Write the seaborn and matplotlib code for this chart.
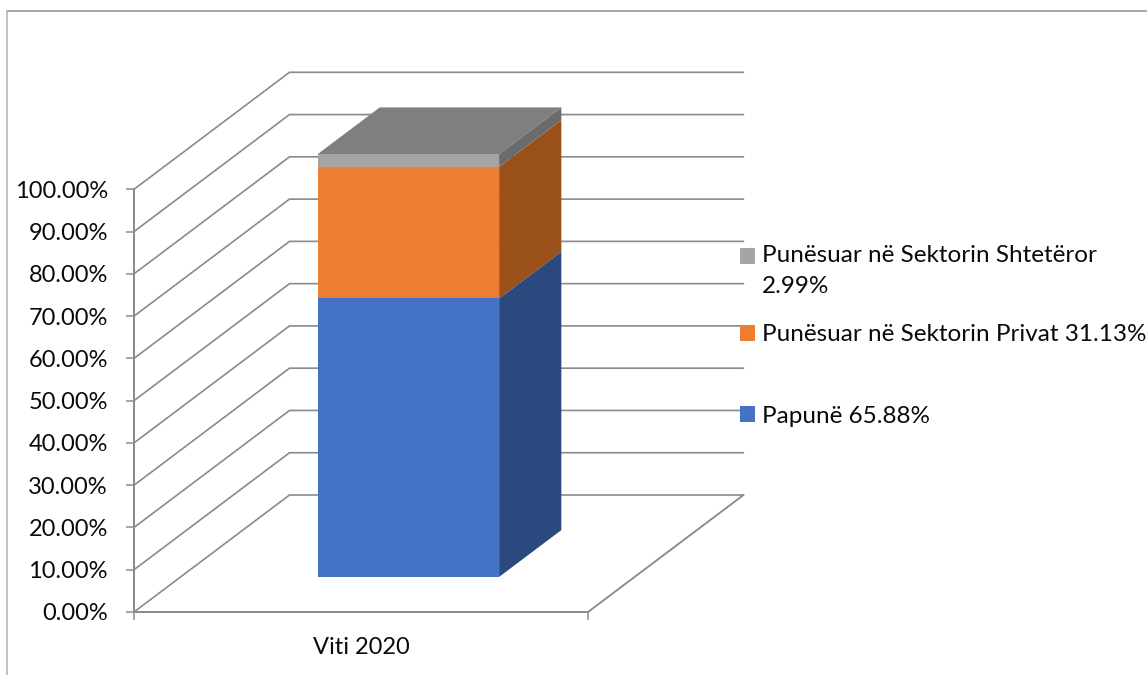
import matplotlib
matplotlib.use("Agg")
import matplotlib.pyplot as plt
import seaborn as sns
import pandas as pd
from matplotlib.lines import Line2D
from matplotlib.patches import Patch
from matplotlib.transforms import Affine2D

categories = ["Viti 2020"]
series_names = ["Papunë", "Punësuar në Sektorin Privat", "Punësuar në Sektorin Shtetëror"]
series_values = [65.88, 31.13, 2.99]
legend_labels = ["Papunë 65.88%", "Punësuar në Sektorin Privat 31.13%",
                 "Punësuar në Sektorin Shtetëror\n2.99%"]
y_ticks = [0, 10, 20, 30, 40, 50, 60, 70, 80, 90, 100]
y_tick_labels = [f"{v:.2f}%" for v in y_ticks]

front_colors = ["#4472C4", "#ED7D31", "#A5A5A5"]
side_colors = ["#2A4A7F", "#9A5119", "#6B6B6B"]
top_color = "#7F7F7F"
line_color = "#8C8C8C"

sns.set_theme(style="white")
plt.rcParams["font.family"] = ["Lato", "DejaVu Sans"]

W, H = 1147, 675
fig = plt.figure(figsize=(W / 100, H / 100), dpi=100, facecolor="white")
px = 0.72  # points per pixel
X0, X1, Y0, Y1 = 134, 588, 612, 189.3
ax = fig.add_axes([X0 / W, 1 - Y0 / H, (X1 - X0) / W, (Y0 - Y1) / H], facecolor="none")

bar_width = 0.4
bottoms = [sum(series_values[:i]) for i in range(len(series_values))]
for name, val, base, col in zip(series_names, series_values, bottoms, front_colors):
    sns.barplot(data=pd.DataFrame({"cat": categories, "v": [val]}), x="cat", y="v",
                bottom=base, width=bar_width, color=col, saturation=1, ax=ax, zorder=5)

ax.set_xlim(-0.5, 0.5)
ax.set_ylim(0, 100)

# oblique projection: depth expressed in data units
DX = 155.5 / (X1 - X0)
DY = 117 / ((Y0 - Y1) / 100)
f_front, f_back = 0.30, 0.70
shift = 0.0015

for bar in ax.patches:
    bar.set_transform(Affine2D().translate(f_front * DX + shift, f_front * DY) + ax.transData)
    bar.set_clip_on(False)
    bar.set_linewidth(0)

# walls and floor
for v in y_ticks:
    ax.plot([-0.5, -0.5 + DX, 0.5 + DX], [v, v + DY, v + DY], color=line_color,
            lw=1.7 * px, clip_on=False, zorder=1, solid_joinstyle="round")
ax.plot([0.5, 0.5 + DX], [0, DY], color=line_color, lw=1.9 * px, clip_on=False, zorder=1)

# bar sides and top
xr = bar_width / 2 + shift
xl = -bar_width / 2 + shift
for val, base, col in zip(series_values, bottoms, side_colors):
    ax.fill([xr + f_front * DX, xr + f_back * DX, xr + f_back * DX, xr + f_front * DX],
            [base + f_front * DY, base + f_back * DY, base + val + f_back * DY, base + val + f_front * DY],
            color=col, lw=0, clip_on=False, zorder=4)
top = sum(series_values)
ax.fill([xl + f_front * DX, xr + f_front * DX, xr + f_back * DX, xl + f_back * DX],
        [top + f_front * DY, top + f_front * DY, top + f_back * DY, top + f_back * DY],
        color=top_color, lw=0, clip_on=False, zorder=4)

# axes styling
fs_tick = 17.0
fs_leg = 17.5
sns.despine(ax=ax, top=True, right=True)
for side in ("left", "bottom"):
    ax.spines[side].set_color(line_color)
    ax.spines[side].set_linewidth(2 * px)
    ax.spines[side].set_zorder(2)
ax.set_xlabel("")
ax.set_ylabel("")
ax.set_yticks(y_ticks, labels=y_tick_labels)
ax.tick_params(axis="y", length=8 * px, width=1.5 * px, color=line_color, pad=18 * px,
               labelsize=fs_tick, labelcolor="#0A0A0A", left=True)
ax.set_xticks([0], labels=categories)
ax.set_xticks([-0.5, 0.5], minor=True)
ax.tick_params(axis="x", which="major", length=0, pad=25 * px, labelsize=fs_tick, labelcolor="#0A0A0A")
ax.tick_params(axis="x", which="minor", length=8 * px, width=1.5 * px, color=line_color, bottom=True)

# legend, one block per entry
legend_pos = [416, 335, 271]
for label, col, yc in zip(legend_labels, front_colors, legend_pos):
    leg = fig.legend(handles=[Patch(facecolor=col, lw=0)], labels=[label],
                     loc="center left", bbox_to_anchor=(740 / W, 1 - yc / H),
                     frameon=False, borderpad=0, borderaxespad=0, fontsize=fs_leg,
                     handlelength=15 * px / fs_leg, handleheight=15 * px / fs_leg,
                     handletextpad=7 * px / fs_leg, labelcolor="#0A0A0A")
    if "\n" in label:
        leg.legend_handles[0].set_y(16 * px)
        for t in leg.get_texts():
            t.set_linespacing(1.55)

# chart frame
fig.add_artist(Line2D([7.5 / W, 1], [1 - 10.5 / H, 1 - 10.5 / H], color="#8C8C8C", lw=1.5 * px))
fig.add_artist(Line2D([7.5 / W, 7.5 / W], [1 - 10.5 / H, 0], color="#B0B0B0", lw=1.5 * px))

fig.savefig("out.png", dpi=100)
